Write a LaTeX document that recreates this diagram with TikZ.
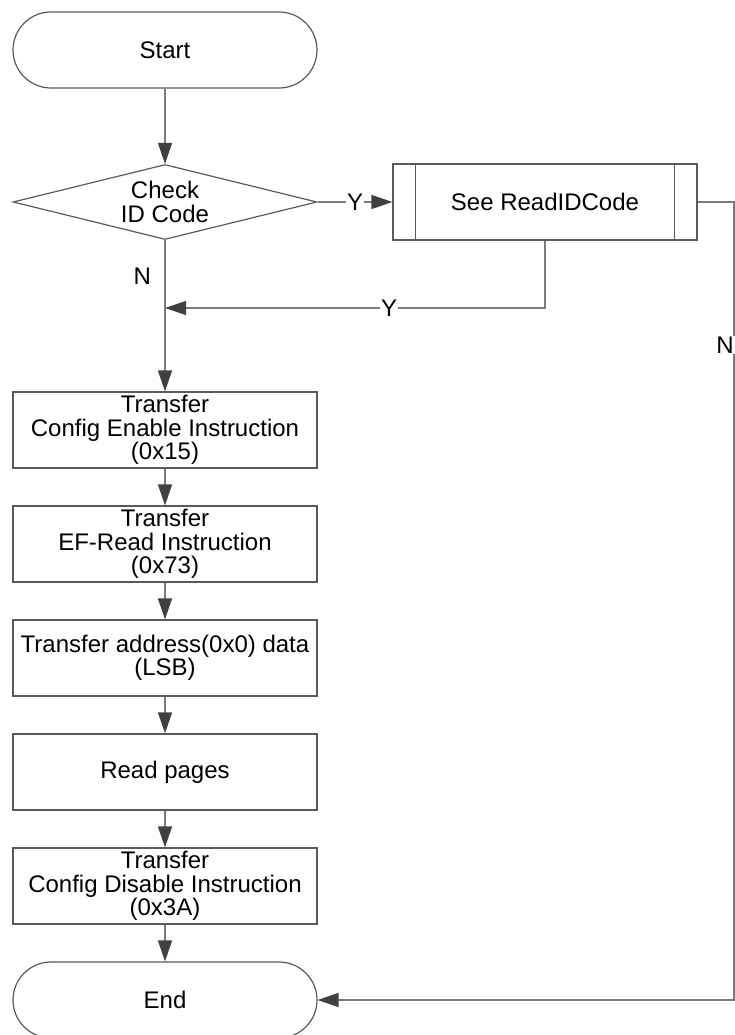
\documentclass[tikz,border=0pt]{standalone}
\usepackage{fontspec}
\setmainfont{Liberation Sans}
\usetikzlibrary{arrows.meta,shapes.geometric}
\definecolor{linec}{HTML}{7A7A7A}
\definecolor{boxc}{HTML}{5A5A5A}
\definecolor{headc}{HTML}{404040}
\begin{document}
\begin{tikzpicture}[x=1pt,y=-1pt,
  every node/.style={font=\fontsize{24}{23.5}\selectfont, text=black},
  proc/.style={draw=boxc, line width=1.2pt, minimum width=304pt, minimum height=76pt, inner sep=0pt, align=center},
  term/.style={proc, rounded corners=38pt},
  dec/.style={diamond, aspect=4.05, draw=boxc, line width=1.2pt, minimum width=304pt, minimum height=75pt, inner sep=0pt, align=center},
  conn/.style={draw=linec, line width=1.3pt},
  arr/.style={conn, -{Triangle[length=21pt,width=14pt,color=headc]}},
  lab/.style={fill=white, inner sep=1pt}
]
\useasboundingbox (0,0) rectangle (735,1035);
\clip (0,0) rectangle (735,1035);

\node[term] (start) at (165,50) {Start};
\node[dec] (chk) at (165,202) {Check\\ID Code};
\node[proc] (pp) at (545,202) {See ReadIDCode};
\draw[draw=boxc, line width=1.2pt]
  ([xshift=23pt]pp.north west) -- ([xshift=23pt]pp.south west)
  ([xshift=-23pt]pp.north east) -- ([xshift=-23pt]pp.south east);

\node[proc] (b1) at (165,430) {Transfer\\Config Enable Instruction\\(0x15)};
\node[proc] (b2) at (165,544) {Transfer\\EF-Read Instruction\\(0x73)};
\node[proc] (b3) at (165,658) {Transfer address(0x0) data\\(LSB)};
\node[proc] (b4) at (165,772) {Read pages};
\node[proc] (b5) at (165,886) {Transfer\\Config Disable Instruction\\(0x3A)};
\node[term] (endn) at (165,1000) {End};

\coordinate (c1) at (545,308);
\coordinate (j1) at (165,308);
\coordinate (r1) at (734,202);
\coordinate (r2) at (734,1000);

\draw[arr] (start) -- (chk);
\draw[arr] (chk.east) -- node[lab]{Y} (pp.west);
\draw[arr] (pp.south) -- (c1) -- node[lab, pos=0.41]{Y} (j1);
\draw[arr] (chk.south) -- node[pos=0.24, left=10pt]{N} (b1.north);
\draw[arr] (pp.east) -- (r1) -- node[lab, pos=0.179, xshift=-9pt]{N} (r2) -- (endn.east);
\draw[arr] (b1) -- (b2);
\draw[arr] (b2) -- (b3);
\draw[arr] (b3) -- (b4);
\draw[arr] (b4) -- (b5);
\draw[arr] (b5) -- (endn);
\end{tikzpicture}
\end{document}
